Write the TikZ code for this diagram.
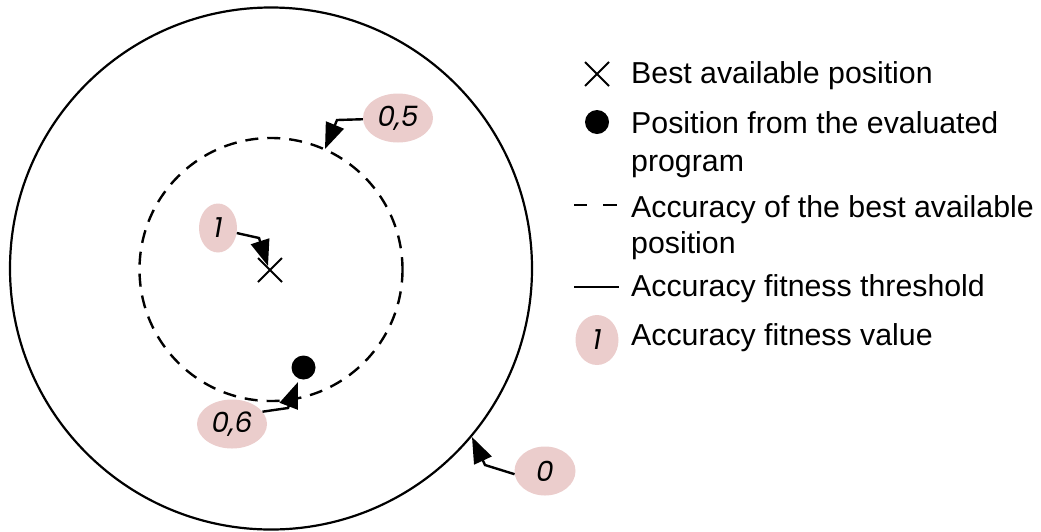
\documentclass[tikz,border=0pt]{standalone}
\usepackage{fontspec}
\setmainfont{Liberation Sans}
\newfontfamily\lblfont{Poppins}
\usetikzlibrary{arrows.meta,shapes.geometric}
\definecolor{pinkfill}{RGB}{235,205,204}
\newcommand{\twolines}[3]{\vtop{\baselineskip=#3\hbox{#1}\hbox{#2}}}
\begin{document}
\begin{tikzpicture}[x=1pt,y=-1pt,
  lbl/.style={ellipse, fill=pinkfill, inner sep=0pt, minimum width=#1, minimum height=49pt,
    font=\lblfont\itshape\fontsize{28}{28}\selectfont},
  arr/.style={line width=2.4pt, -{Triangle[length=26pt,width=19pt]}},
  legtext/.style={anchor=base west, inner sep=0pt,
    font=\fontsize{30.3}{37}\selectfont},
  crossmark/.style={line width=2pt},
  dashcircle/.style={line width=2.4pt, dash pattern=on 13pt off 9pt},
  solidcircle/.style={line width=2.2pt}
]
\useasboundingbox (0,0) rectangle (1041,531);

% circles
\draw[solidcircle] (271,268.5) circle[radius=261];
\draw[dashcircle] (271,269.5) circle[radius=131.5];

% best position cross
\coordinate (best) at (270,270);
\draw[crossmark] ([shift={(-12,-12)}]best) -- ([shift={(12,12)}]best)
                 ([shift={(-12,12)}]best) -- ([shift={(12,-12)}]best);
% evaluated position dot
\node[circle, fill=black, inner sep=0pt, minimum size=24pt] (dot) at (303.5,367.5) {};

% labels
\node[lbl=38pt] (l1) at (218,228) {1};
\node[lbl=70pt] (l5) at (398,118) {0,5};
\node[lbl=70pt] (l6) at (232,424) {0,6};
\node[lbl=61pt] (l0) at (545,471) {0};

\coordinate (b1) at (259,238); \coordinate (t1) at (268,266);
\coordinate (b5) at (337,120); \coordinate (t5) at (325,149);
\coordinate (b6) at (288,408); \coordinate (t6) at (298,382);
\coordinate (b0) at (485,465); \coordinate (t0) at (472,437);

\draw[arr] (l1.-15) -- (b1) -- (t1);
\draw[arr] (l5.182) -- (b5) -- (t5);
\draw[arr] (l6.22) -- (b6) -- (t6);
\draw[arr] (l0.186) -- (b0) -- (t0);

% legend
\coordinate (lx) at (597,74);
\draw[crossmark] ([shift={(-12,-12)}]lx) -- ([shift={(12,12)}]lx)
                 ([shift={(-12,12)}]lx) -- ([shift={(12,-12)}]lx);
\node[circle, fill=black, inner sep=0pt, minimum size=24pt] (ldot) at (597,122) {};
\coordinate (ld1) at (574,205); \coordinate (ld2) at (587,205);
\coordinate (ld3) at (603,205); \coordinate (ld4) at (617,205);
\draw[line width=2pt] (ld1) -- (ld2) (ld3) -- (ld4);
\coordinate (ls1) at (574,287); \coordinate (ls2) at (619,287);
\draw[line width=2pt] (ls1) -- (ls2);
\node[lbl=43pt, minimum height=50pt] (lleg) at (597,340) {1};

\node[legtext] (t1text) at (631,83) {Best available position};
\node[legtext] (t2text) at (631,133) {\twolines{Position from the evaluated}{program}{38pt}};
\node[legtext] (t3text) at (631,217) {\twolines{Accuracy of the best available}{position}{36pt}};
\node[legtext] (t4text) at (631,296) {Accuracy fitness threshold};
\node[legtext] (t5text) at (631,345) {Accuracy fitness value};
\end{tikzpicture}
\end{document}
